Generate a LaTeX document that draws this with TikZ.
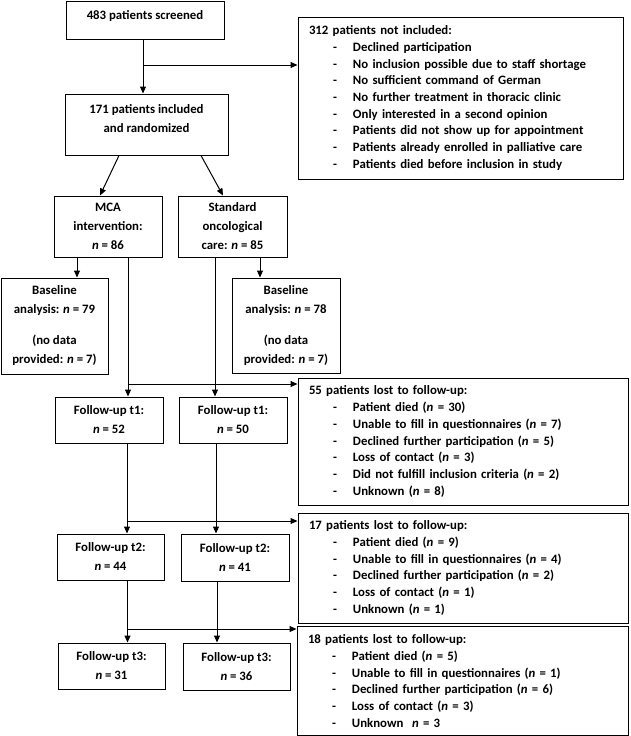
\documentclass[tikz,border=0pt]{standalone}
\usepackage{fontspec}
\setmainfont{Carlito}
\usetikzlibrary{arrows.meta,calc}
\newcommand{\nv}{\textit{n}}
\newcommand{\itm}[1]{\\\hspace*{24pt}\makebox[20pt][l]{-}#1}

\begin{document}
\begin{tikzpicture}[x=1pt, y=-1pt, font=\fontsize{12.8}{19}\selectfont\bfseries,
  box/.style={draw, line width=1pt, align=center, inner sep=0pt},
  listbox/.style={draw, line width=1pt, align=left, inner xsep=11pt, inner ysep=0pt,
    font=\fontsize{12.8}{16.7}\selectfont\bfseries},
  arr/.style={line width=1pt, -{Triangle[length=7pt, width=6pt]}}]
\useasboundingbox[fill=white] (0,0) rectangle (630,736);

% main column
\node[box, minimum width=158, minimum height=38] (scr) at (145,20) {483 patients screened\\[-9pt]\mbox{}};
\node[box, minimum width=163, minimum height=61] (rand) at (146.5,124.5) {171 patients included\\and randomized\\[-7pt]\mbox{}};
\node[box, minimum width=108, minimum height=61] (mca) at (108,226.5) {MCA\\intervention:\\\nv{} = 86};
\node[box, minimum width=109, minimum height=61] (std) at (232.5,226.5) {Standard\\oncological\\care: \nv{} = 85};
\node[box, minimum width=107, minimum height=96] (baseL) at (54.5,326) {Baseline\\analysis: \nv{} = 79\\[12pt](no data\\provided: \nv{} = 7)};
\node[box, minimum width=108, minimum height=95] (baseR) at (286,325.5) {Baseline\\analysis: \nv{} = 78\\[12pt](no data\\provided: \nv{} = 7)};
\node[box, minimum width=108, minimum height=46] (fa1) at (109,420) {Follow-up t1:\\\nv{} = 52};
\node[box, minimum width=108, minimum height=46] (fb1) at (233,420) {Follow-up t1:\\\nv{} = 50};
\node[box, minimum width=107, minimum height=46] (fa2) at (110.5,557) {Follow-up t2:\\\nv{} = 44};
\node[box, minimum width=108, minimum height=47] (fb2) at (235,557.5) {Follow-up t2:\\\nv{} = 41};
\node[box, minimum width=107, minimum height=46] (fa3) at (111.5,666) {Follow-up t3:\\\nv{} = 31};
\node[box, minimum width=107, minimum height=47] (fb3) at (236.5,666.5) {Follow-up t3:\\\nv{} = 36};

% side boxes
\node[listbox, text width=303, minimum height=162] (excl) at (460.5,98) {312 patients not included:%
  \itm{Declined participation}\itm{No inclusion possible due to staff shortage}%
  \itm{No sufficient command of German}\itm{No further treatment in thoracic clinic}%
  \itm{Only interested in a second opinion}\itm{Patients did not show up for appointment}%
  \itm{Patients already enrolled in palliative care}\itm{Patients died before inclusion in study}};
\node[listbox, text width=308, minimum height=127] (lost1) at (463,441.5) {55 patients lost to follow-up:%
  \itm{Patient died (\nv{} = 30)}\itm{Unable to fill in questionnaires (\nv{} = 7)}%
  \itm{Declined further participation (\nv{} = 5)}\itm{Loss of contact (\nv{} = 3)}%
  \itm{Did not fulfill inclusion criteria (\nv{} = 2)}\itm{Unknown (\nv{} = 8)}};
\node[listbox, text width=308, minimum height=110] (lost2) at (463,568) {17 patients lost to follow-up:%
  \itm{Patient died (\nv{} = 9)}\itm{Unable to fill in questionnaires (\nv{} = 4)}%
  \itm{Declined further participation (\nv{} = 2)}\itm{Loss of contact (\nv{} = 1)}%
  \itm{Unknown (\nv{} = 1)}};
\node[listbox, text width=309, minimum height=109] (lost3) at (462.5,681) {18 patients lost to follow-up:%
  \itm{Patient died (\nv{} = 5)}\itm{Unable to fill in questionnaires (\nv{} = 1)}%
  \itm{Declined further participation (\nv{} = 6)}\itm{Loss of contact (\nv{} = 3)}%
  \itm{Unknown~ \nv{} = 3}};

% connectors
\draw[arr] ($(scr.south)+(-2,0)$) -- ($(rand.north)+(-3.5,0)$);
\coordinate (j0) at (143,65);
\draw[arr] (j0) -- (j0 -| excl.west);
\draw[arr] ($(rand.south)+(-27.5,0)$) -- ($(mca.north)+(-8,0)$);
\draw[arr] ($(rand.south)+(54.5,0)$) -- ($(std.north)+(-9.5,0)$);
\draw[arr] ($(mca.south)+(-31,0)$) coordinate (m0) -- (m0 |- baseL.north);
\draw[arr] ($(std.south)+(27.5,0)$) coordinate (s0) -- (s0 |- baseR.north);
\draw[arr] ($(mca.south)+(20,0)$) coordinate (m1) -- (m1 |- fa1.north);
\draw[arr] ($(std.south)+(-17.5,0)$) coordinate (s1) -- (s1 |- fb1.north);
\coordinate (j1) at (128,384);
\draw[arr] (j1) -- (j1 -| lost1.west);
\draw[arr] ($(fa1.south)+(18,0)$) coordinate (m2) -- (m2 |- fa2.north);
\draw[arr] ($(fb1.south)+(-17,0)$) coordinate (s2) -- (s2 |- fb2.north);
\coordinate (j2) at (127,521);
\draw[arr] (j2) -- (j2 -| lost2.west);
\draw[arr] ($(fa2.south)+(17,0)$) coordinate (m3) -- (m3 |- fa3.north);
\draw[arr] ($(fb2.south)+(-18,0)$) coordinate (s3) -- (s3 |- fb3.north);
\coordinate (j3) at (128,629);
\draw[arr] (j3) -- (j3 -| lost3.west);
\end{tikzpicture}
\end{document}
